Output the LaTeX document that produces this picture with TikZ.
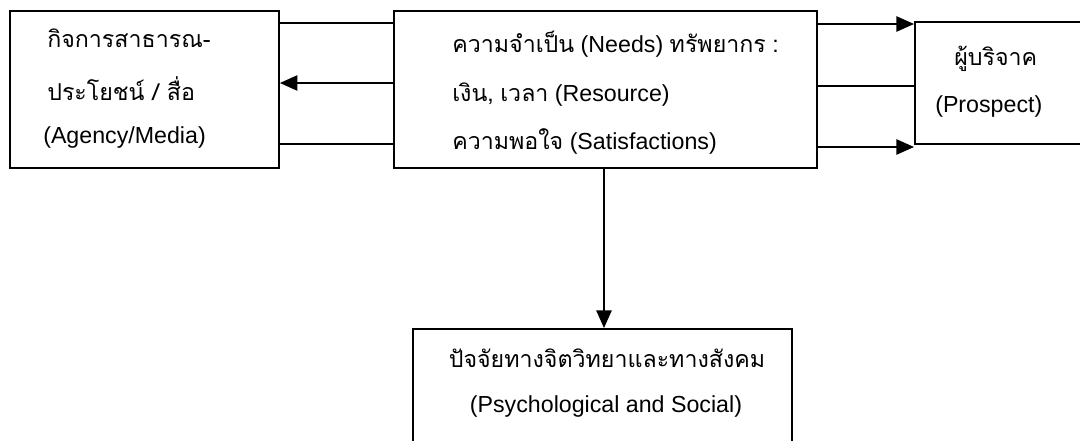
\documentclass[tikz,border=0pt]{standalone}
\usepackage{fontspec}
\setmainfont{Liberation Sans}
\newfontfamily\thaifont[Script=Thai]{Loma}
\usetikzlibrary{arrows.meta}

\begin{document}
\begin{tikzpicture}[x=0.025cm, y=-0.025cm,
		box/.style={draw, line width=1.4pt, inner sep=0pt, anchor=north west},
		txt/.style={anchor=base west, inner sep=0pt, font=\fontsize{16.5}{20}\selectfont},
		link/.style={line width=1.4pt},
		tip/.style={line width=1.4pt, -{Triangle[length=4.4mm, width=3.8mm]}}]
			\useasboundingbox (0,0) rectangle (1080,441);
			\node[box, minimum width=6.72cm, minimum height=3.925cm] (agency) at (9,10) {};
			\node[box, minimum width=10.575cm, minimum height=3.925cm] (needs) at (393,10) {};
			\node[box, minimum width=7.15cm, minimum height=3.05cm] (prospect) at (914,21) {};
			\node[box, minimum width=9.475cm, minimum height=3.8cm] (factors) at (412,328) {};
			\node[txt] (agency1) at (47,47) {\thaifont กิจการสาธารณ-};
			\node[txt] (agency2) at (47,100) {\thaifont ประโยชน์ / สื่อ};
			\node[txt] (agency3) at (43,143) {(Agency/Media)};
			\node[txt] (needs1) at (452,52) {{\thaifont ความจำเป็น} (Needs) {\thaifont ทรัพยากร} :};
			\node[txt] (needs2) at (452,101) {{\thaifont เงิน,} {\thaifont เวลา} (Resource)};
			\node[txt] (needs3) at (452,149) {{\thaifont ความพอใจ} (Satisfactions)};
			\node[txt] (prospect1) at (954,65) {\thaifont ผู้บริจาค};
			\node[txt] (prospect2) at (935,112) {(Prospect)};
			\node[txt, anchor=base] (factors1) at (607,367) {\thaifont ปัจจัยทางจิตวิทยาและทางสังคม};
			\node[txt, anchor=base] (factors2) at (606,412) {(Psychological and Social)};
			\draw[link] (agency.east |- 0,23) -- (needs.west |- 0,23);
			\draw[tip] (needs.west |- 0,83) -- (agency.east |- 0,83);
			\draw[link] (agency.east |- 0,144) -- (needs.west |- 0,144);
			\draw[tip] (needs.east |- 0,24) -- (prospect.west |- 0,24);
			\draw[link] (needs.east |- 0,86) -- (prospect.west |- 0,86);
			\draw[tip] (needs.east |- 0,147) -- (prospect.west |- 0,147);
			\draw[tip] (needs.south -| 604,0) -- (factors.north -| 604,0);
		\end{tikzpicture}
\end{document}
